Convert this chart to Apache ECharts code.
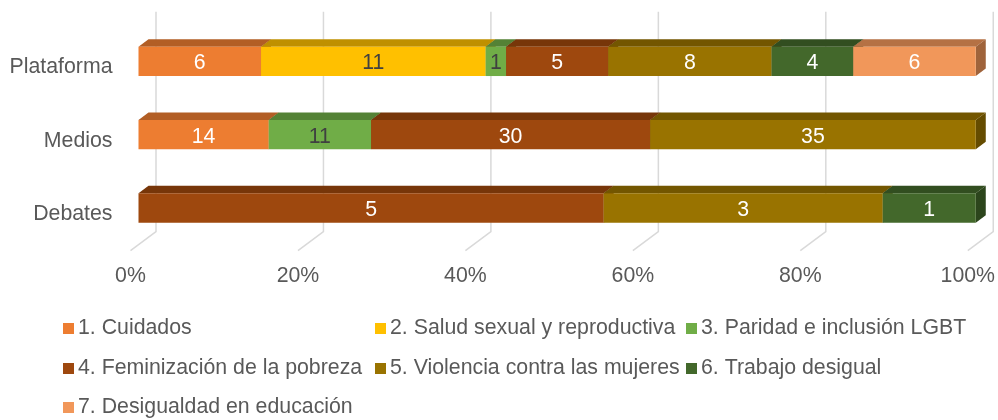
<!DOCTYPE html>
<html>
<head>
<meta charset="utf-8">
<style>
  html, body { margin: 0; padding: 0; background: #fff; }
  #chart { width: 998px; height: 420px; }
</style>
<script src="https://cdn.jsdelivr.net/npm/echarts@6/dist/echarts.min.js"></script>
</head>
<body>
<div id="chart"></div>
<script>
// counts per tema, same order as the categories (bottom to top on the axis)
const categories = ["Debates", "Medios", "Plataforma"];
const seriesNames = [
  "1. Cuidados",
  "2. Salud sexual y reproductiva",
  "3. Paridad e inclusión LGBT",
  "4. Feminización de la pobreza",
  "5. Violencia contra las mujeres",
  "6. Trabajo desigual",
  "7. Desigualdad en educación",
];
const cuidados = [0, 14, 6];
const salud = [0, 0, 11];
const paridad = [0, 11, 1];
const pobreza = [5, 30, 5];
const violencia = [3, 35, 8];
const trabajo = [1, 0, 4];
const educacion = [0, 0, 6];
const seriesValues = [cuidados, salud, paridad, pobreza, violencia, trabajo, educacion];
const tickValues = [0, 20, 40, 60, 80, 100];

const colors = ["#ED7D31", "#FFC000", "#70AD47", "#9E480E", "#997300", "#43682B", "#F1975A"];
const topColors = ["#B25E25", "#BF9000", "#548235", "#773609", "#735600", "#324E20", "#B57144"];
const sideColors = ["#9C5220", "#A87F00", "#4A722F", "#683008", "#654C00", "#2C451C", "#9F633B"];
const labelColors = ["#fff", "#404040", "#404040", "#fff", "#fff", "#fff", "#fff"];

const FONT = '"Liberation Sans", Arial, sans-serif';
const FONT_SIZE = 21.3;
const TEXT = "#595959";
const GRIDLINE = "#D9D9D9";

// fake 3D: the floor goes back up-right, bars sit in the middle of it
const FLOOR_DX = 25.5, FLOOR_DY = 19;
const BAR_DX = 8, BAR_DY = 6;
const DEPTH_DX = 10, DEPTH_DY = 7.5;

const grid = { left: 130.5, top: 30.7, width: 838.5, height: 220 };

// legend slots, one legend per item because the columns are fixed
const legendCols = [63, 375, 686];
const legendRows = [318, 358, 397];
const legendSlots = [[0, 0], [1, 0], [2, 0], [0, 1], [1, 1], [2, 1], [0, 2]];

function totals() {
  return categories.map((_, i) => seriesValues.reduce((s, vals) => s + vals[i], 0));
}

// [from %, to %, category index, count]
function buildSegments() {
  const sums = totals();
  const base = categories.map(() => 0);
  return seriesValues.map((vals) => {
    const rows = [];
    vals.forEach((v, i) => {
      if (!v) return;
      const from = (base[i] / sums[i]) * 100;
      base[i] += v;
      rows.push([from, (base[i] / sums[i]) * 100, i, v]);
    });
    return rows;
  });
}

function renderBar(seriesIdx) {
  return function (params, api) {
    const a = api.coord([api.value(0), api.value(2)]);
    const b = api.coord([api.value(1), api.value(2)]);
    const h = api.size([0, 1])[1] * 0.4;
    const x0 = a[0] + BAR_DX;
    const x1 = b[0] + BAR_DX;
    const yT = a[1] - BAR_DY - h / 2;
    const yB = yT + h;
    const face = (points, fill) => ({ type: "polygon", shape: { points }, style: { fill } });
    return {
      type: "group",
      children: [
        face([[x0, yT], [x1, yT], [x1 + DEPTH_DX, yT - DEPTH_DY], [x0 + DEPTH_DX, yT - DEPTH_DY]], topColors[seriesIdx]),
        face([[x1, yT], [x1 + DEPTH_DX, yT - DEPTH_DY], [x1 + DEPTH_DX, yB - DEPTH_DY], [x1, yB]], sideColors[seriesIdx]),
        { type: "rect", shape: { x: x0, y: yT, width: x1 - x0, height: h }, style: { fill: colors[seriesIdx] } },
        {
          type: "text",
          style: {
            text: String(api.value(3)),
            x: (x0 + x1) / 2,
            y: yT + h / 2 + 2,
            align: "center",
            verticalAlign: "middle",
            fill: labelColors[seriesIdx],
            font: FONT_SIZE + "px " + FONT,
          },
        },
      ],
    };
  };
}

function renderWall(params, api) {
  const p = api.coord([api.value(0), 0]);
  const bottom = grid.top + grid.height;
  const x = p[0];
  return {
    type: "polyline",
    shape: {
      points: [
        [x, bottom],
        [x + FLOOR_DX, bottom - FLOOR_DY],
        [x + FLOOR_DX, grid.top - FLOOR_DY],
      ],
    },
    style: { fill: "none", stroke: GRIDLINE, lineWidth: 1.5 },
  };
}

const segments = buildSegments();

const option = {
  animation: false,
  backgroundColor: "#fff",
  textStyle: { fontFamily: FONT },
  grid: grid,
  xAxis: {
    type: "value",
    min: 0,
    max: 100,
    interval: 20,
    axisLine: { show: false },
    axisTick: { show: false },
    splitLine: { show: false },
    axisLabel: { formatter: "{value}%", color: TEXT, fontSize: FONT_SIZE, fontFamily: FONT, margin: 15 },
  },
  yAxis: {
    type: "category",
    data: categories,
    axisLine: { show: false },
    axisTick: { show: false },
    axisLabel: { color: TEXT, fontSize: FONT_SIZE, fontFamily: FONT, margin: 18, padding: [3, 0, 0, 0] },
  },
  legend: seriesNames.map((name, i) => ({
    data: [name],
    left: legendCols[legendSlots[i][0]],
    top: legendRows[legendSlots[i][1]],
    padding: 0,
    itemWidth: 11,
    itemHeight: 11,
    itemGap: 0,
    icon: "rect",
    selectedMode: false,
    textStyle: { color: TEXT, fontSize: FONT_SIZE, fontFamily: FONT, padding: [0, 0, 0, -1] },
  })),
  series: [
    {
      type: "custom",
      name: "walls",
      silent: true,
      renderItem: renderWall,
      data: tickValues.map((v) => [v]),
      encode: { x: 0 },
      z: 1,
    },
  ].concat(
    seriesNames.map((name, i) => ({
      type: "custom",
      name: name,
      itemStyle: { color: colors[i] },
      renderItem: renderBar(i),
      data: segments[i],
      encode: { x: [0, 1], y: 2 },
      z: 2,
    }))
  ),
};

const chart = echarts.init(document.getElementById("chart"));
chart.setOption(option);
window.addEventListener("resize", () => chart.resize());
</script>
</body>
</html>
